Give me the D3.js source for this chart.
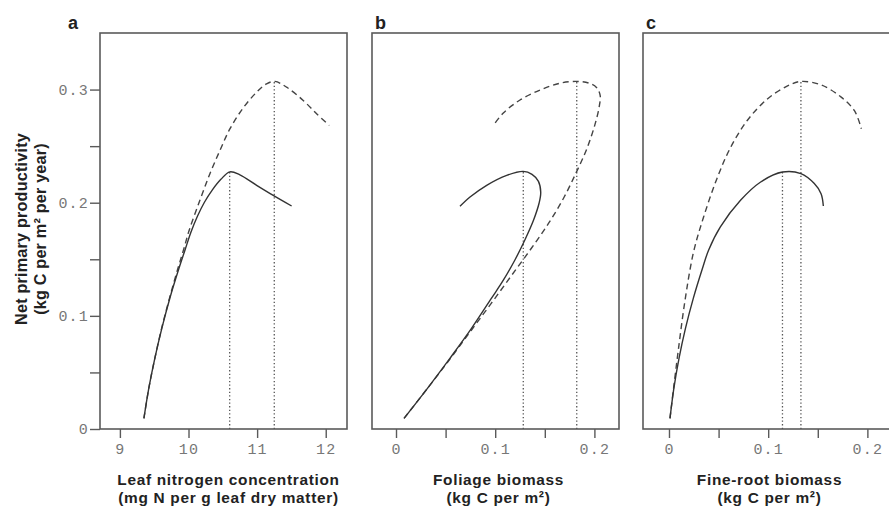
<!DOCTYPE html>
<html>
<head>
<meta charset="utf-8">
<script src="https://cdn.jsdelivr.net/npm/d3@7"></script>
<style>
  body { margin: 0; background: #fff; }
  svg { display: block; }
</style>
</head>
<body>
<svg id="chart" width="889" height="508"></svg>
<script>
// values: [x, NPP]
const panelLetters = ['a', 'b', 'c'];
const xTitles = [
  ['Leaf nitrogen concentration', '(mg N per g leaf dry matter)'],
  ['Foliage biomass', '(kg C per m²)'],
  ['Fine-root biomass', '(kg C per m²)']
];
const yTitle = ['Net primary productivity', '(kg C per m² per year)'];

const yTicks = [0, 0.05, 0.1, 0.15, 0.2, 0.25, 0.3];
const yLabels = { 0: '0', 0.1: '0.1', 0.2: '0.2', 0.3: '0.3' };
const xTicksA = [9, 10, 11, 12];
const xTicksBC = [0, 0.05, 0.1, 0.15, 0.2];
const xLabelsBC = { 0: '0', 0.1: '0.1', 0.2: '0.2' };

// panel a: leaf nitrogen
const nitrogenSolid = [
  [9.350, 0.0094], [9.421, 0.0359], [9.509, 0.0624], [9.611, 0.0889], [9.727, 0.1154],
  [9.860, 0.1418], [9.948, 0.1580], [10.035, 0.1739], [10.130, 0.1880], [10.232, 0.2004],
  [10.348, 0.2114], [10.472, 0.2207], [10.603, 0.2273], [10.749, 0.2246], [10.993, 0.2154],
  [11.235, 0.2065], [11.503, 0.1971]
];
const nitrogenDashed = [
  [9.350, 0.0094], [9.421, 0.0359], [9.509, 0.0624], [9.608, 0.0889], [9.722, 0.1154],
  [9.845, 0.1418], [9.926, 0.1580], [10.010, 0.1756], [10.166, 0.2021], [10.312, 0.2257],
  [10.458, 0.2462], [10.603, 0.2652], [10.797, 0.2838], [10.993, 0.2977], [11.138, 0.3051],
  [11.259, 0.3072], [11.430, 0.3021], [11.672, 0.2904], [11.867, 0.2786], [12.051, 0.2683]
];
const nitrogenPeaks = [[10.60, 0.2273], [11.25, 0.3072]];

// panel b: foliage biomass
const foliageSolid = [
  [0.0081, 0.0094], [0.0317, 0.0359], [0.0543, 0.0624], [0.0761, 0.0889], [0.0961, 0.1154],
  [0.1082, 0.1315], [0.1200, 0.1496], [0.1300, 0.1673], [0.1386, 0.1845], [0.1442, 0.1995],
  [0.1459, 0.2092], [0.1436, 0.2189], [0.1371, 0.2251], [0.1283, 0.2277], [0.1116, 0.2242],
  [0.0914, 0.2154], [0.0746, 0.2050], [0.0645, 0.1968]
];
const foliageDashed = [
  [0.0081, 0.0094], [0.0317, 0.0359], [0.0549, 0.0624], [0.0756, 0.0869], [0.0958, 0.1108],
  [0.1159, 0.1350], [0.1361, 0.1593], [0.1542, 0.1823], [0.1694, 0.2048], [0.1822, 0.2277],
  [0.1925, 0.2480], [0.2006, 0.2692], [0.2049, 0.2851], [0.2058, 0.2948], [0.2021, 0.3019],
  [0.1941, 0.3058], [0.1822, 0.3072], [0.1653, 0.3056], [0.1452, 0.2996], [0.1250, 0.2908],
  [0.1082, 0.2793], [0.0981, 0.2683]
];
const foliagePeaks = [[0.1283, 0.2277], [0.1822, 0.3072]];

// panel c: fine-root biomass
const rootSolid = [
  [0.0010, 0.0094], [0.0049, 0.0359], [0.0101, 0.0624], [0.0166, 0.0889], [0.0245, 0.1154],
  [0.0337, 0.1418], [0.0399, 0.1580], [0.0518, 0.1786], [0.0721, 0.2021], [0.0924, 0.2183],
  [0.1144, 0.2271], [0.1330, 0.2257], [0.1465, 0.2169], [0.1533, 0.2080], [0.1556, 0.1971]
];
const rootDashed = [
  [0.0010, 0.0094], [0.0044, 0.0344], [0.0094, 0.0697], [0.0162, 0.1139], [0.0247, 0.1562],
  [0.0348, 0.1871], [0.0484, 0.2215], [0.0619, 0.2485], [0.0789, 0.2727], [0.0992, 0.2917],
  [0.1195, 0.3032], [0.1330, 0.3072], [0.1533, 0.3041], [0.1736, 0.2933], [0.1871, 0.2811],
  [0.1939, 0.2654]
];
const rootPeaks = [[0.1144, 0.2271], [0.1330, 0.3072]];

const svg = d3.select('#chart');

const plotTop = 33, plotBottom = 429, panelW = 247;
const panelLefts = [100, 372, 643];
const xDomains = [[8.71, 12.31], [-0.0242, 0.2248], [-0.0262, 0.2228]];
const panels = [
  { solid: nitrogenSolid, dashed: nitrogenDashed, peaks: nitrogenPeaks, ticks: xTicksA, fmt: d => String(d) },
  { solid: foliageSolid, dashed: foliageDashed, peaks: foliagePeaks, ticks: xTicksBC, fmt: d => xLabelsBC[d] || '' },
  { solid: rootSolid, dashed: rootDashed, peaks: rootPeaks, ticks: xTicksBC, fmt: d => xLabelsBC[d] || '' }
];

const y = d3.scaleLinear().domain([0, 0.35]).range([plotBottom, plotTop]);

const frameColor = '#5a5a5a';
const tickFont = "'Liberation Mono', 'DejaVu Sans Mono', monospace";
const titleFont = "'Liberation Sans', Arial, sans-serif";

panels.forEach((p, i) => {
  const x = d3.scaleLinear().domain(xDomains[i]).range([panelLefts[i], panelLefts[i] + panelW]);
  const g = svg.append('g');

  // x axis
  const xa = g.append('g')
    .attr('transform', `translate(0,${plotBottom})`)
    .call(d3.axisBottom(x).tickValues(p.ticks).tickFormat(p.fmt).tickSize(9).tickPadding(5));
  xa.select('.domain').remove();
  xa.selectAll('.tick line').attr('stroke', frameColor).attr('stroke-width', 1.4);
  xa.selectAll('.tick text')
    .attr('fill', '#777').attr('font-family', tickFont).attr('font-size', 15)
    .attr('letter-spacing', 1.2);

  if (i === 0) {
    const ya = g.append('g')
      .attr('transform', `translate(${panelLefts[0]},0)`)
      .call(d3.axisLeft(y).tickValues(yTicks).tickFormat(d => yLabels[d] || '').tickSize(10).tickPadding(1));
    ya.select('.domain').remove();
    ya.selectAll('.tick line').attr('stroke', frameColor).attr('stroke-width', 1.4);
    ya.selectAll('.tick text')
      .attr('fill', '#777').attr('font-family', tickFont).attr('font-size', 15)
      .attr('letter-spacing', 1.2);
  }

  // frame
  g.append('rect')
    .attr('x', x.range()[0]).attr('y', plotTop)
    .attr('width', panelW).attr('height', plotBottom - plotTop)
    .attr('fill', 'none').attr('stroke', frameColor).attr('stroke-width', 1.6);

  // dotted drop lines at the maxima
  g.selectAll('line.peak').data(p.peaks).join('line')
    .attr('class', 'peak')
    .attr('x1', d => x(d[0])).attr('x2', d => x(d[0]))
    .attr('y1', y(0)).attr('y2', d => y(d[1]))
    .attr('stroke', '#555').attr('stroke-width', 1.3)
    .attr('stroke-dasharray', '1.3,2.3');

  const line = d3.line().x(d => x(d[0])).y(d => y(d[1])).curve(d3.curveCatmullRom.alpha(0.5));

  g.append('path').datum(p.dashed)
    .attr('d', line).attr('fill', 'none')
    .attr('stroke', '#444').attr('stroke-width', 1.4)
    .attr('stroke-dasharray', '6,4');

  g.append('path').datum(p.solid)
    .attr('d', line).attr('fill', 'none')
    .attr('stroke', '#333').attr('stroke-width', 1.4);

  // panel letter
  g.append('text')
    .attr('x', x.range()[0] - (i === 0 ? 32 : -3)).attr('y', 28.5)
    .attr('font-family', titleFont).attr('font-weight', 'bold').attr('font-size', 18)
    .attr('fill', '#222')
    .text(panelLetters[i]);

  // x title, two lines
  const cx = (x.range()[0] + x.range()[1]) / 2 + (i === 0 ? 5 : 3);
  g.append('text')
    .attr('x', cx).attr('text-anchor', 'middle')
    .attr('font-family', titleFont).attr('font-weight', 'bold').attr('font-size', 15.4)
    .attr('letter-spacing', 0.7)
    .attr('fill', '#222')
    .selectAll('tspan').data(xTitles[i]).join('tspan')
    .attr('x', cx).attr('y', (d, k) => 485 + k * 17.6)
    .text(d => d);
});

// y title
const yt = svg.append('text')
  .attr('transform', 'translate(0,229) rotate(-90)')
  .attr('text-anchor', 'middle')
  .attr('font-family', titleFont).attr('font-weight', 'bold').attr('font-size', 16.2)
  .attr('letter-spacing', 0.2)
  .attr('fill', '#222');
yt.selectAll('tspan').data(yTitle).join('tspan')
  .attr('x', 0).attr('y', (d, k) => 27 + k * 18.5)
  .text(d => d);
</script>
</body>
</html>
